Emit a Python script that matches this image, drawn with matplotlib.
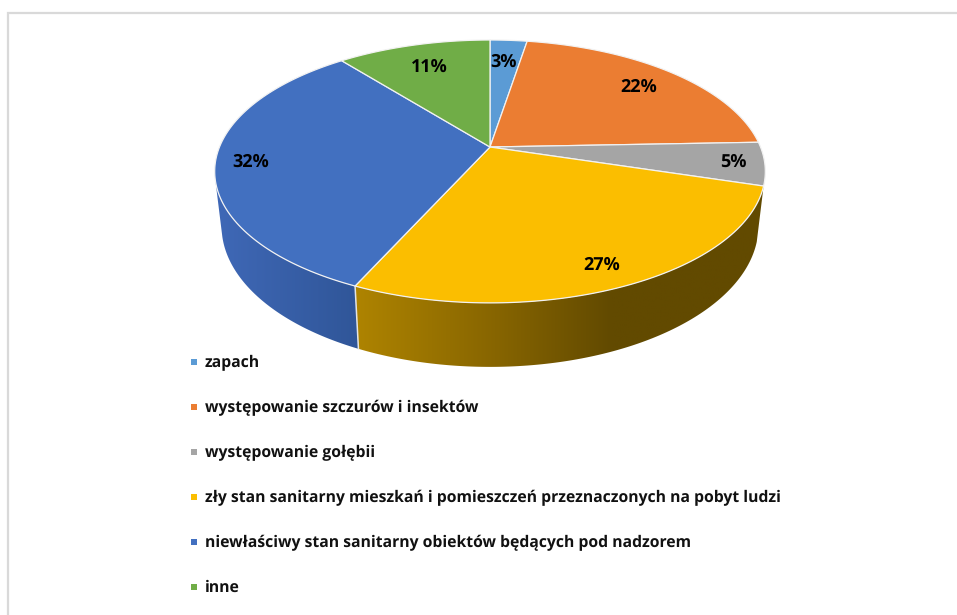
import numpy as np
import matplotlib
matplotlib.use('Agg')
import matplotlib.pyplot as plt
from matplotlib.colors import LinearSegmentedColormap
from matplotlib.patches import Polygon, Rectangle

# data
categories = ['zapach', 'występowanie szczurów i insektów', 'występowanie gołębii',
              'zły stan sanitarny mieszkań i pomieszczeń przeznaczonych na pobyt ludzi',
              'niewłaściwy stan sanitarny obiektów będących pod nadzorem', 'inne']
values = [2.6, 21.8, 5.3, 27.1, 32.4, 10.8]
colors = ['#5B9BD5', '#EB7D32', '#A5A5A5', '#FBBE00', '#4270C0', '#70AD47']

# layout, all in pixels of the 957x615 picture
W, H = 957, 615
CX, CY = 490, 147
A, B, K = 270.5, 126.9, 0.186
label_xy = [(504, 62), (639, 87), (733, 162), (602, 265), (251, 162), (429, 67)]
legend_y = [362, 407, 452, 497, 542, 587]
WALL_LEFT = 255  # degrees where the left side wall stops being visible


def top_rim(deg):
    # circle seen in perspective, angle runs clockwise from 12 o'clock
    t = np.radians(deg)
    xx, yy = np.sin(t), np.cos(t)
    den = 1 + K * yy
    return CX + A * xx / den, CY - B * yy / den


def bottom_rim(deg):
    x, y = top_rim(deg)
    return CX + 0.975 * (x - CX), y + 53 + 11 * (y - CY) / 156


def wall(ax, d0, d1, stops, x0, x1):
    deg = np.linspace(d0, d1, 120)
    tx, ty = top_rim(deg)
    bx, by = bottom_rim(deg)
    pts = np.r_[np.c_[tx, ty], np.c_[bx, by][::-1]]
    outline = Polygon(pts, closed=True, fc='none', ec='none')
    ax.add_patch(outline)
    cmap = LinearSegmentedColormap.from_list('w', stops)
    grad = np.linspace(0, 1, 256).reshape(1, -1)
    im = ax.imshow(grad, cmap=cmap, extent=(x0, x1, 400, 100), aspect='auto',
                   interpolation='bilinear', zorder=1)
    im.set_clip_path(outline)


plt.rcParams['font.family'] = ['Open Sans', 'DejaVu Sans']
plt.rcParams['text.hinting'] = 'no_hinting'
fig = plt.figure(figsize=(W / 100, H / 100), dpi=100)
ax = fig.add_axes([0, 0, 1, 1])

# grey frame of the screenshot
ax.plot([8, 8, W], [H, 13, 13], color='#D9D9D9', lw=1.6, solid_joinstyle='miter')

edges = np.cumsum([0] + values) * 3.6

# side walls, only gold and blue are visible
gold_stops = [(0, '#B08500'), (0.35, '#876500'), (0.63, '#624A00'), (1, '#624A00')]
blue_stops = [(0, '#4069B8'), (1, '#2F5597')]
wall(ax, edges[3], edges[4], gold_stops, 350, 765)
wall(ax, edges[4], WALL_LEFT, blue_stops, 210, 365)
sx, sy = top_rim(edges[4])
ex, ey = bottom_rim(edges[4])
ax.plot([sx, ex], [sy, ey], color='#E4E4E4', lw=1.1, zorder=2)

# top surface
for i, c in enumerate(colors):
    deg = np.linspace(edges[i], edges[i + 1], 100)
    rx, ry = top_rim(deg)
    pts = np.r_[[[CX, CY]], np.c_[rx, ry]]
    ax.add_patch(Polygon(pts, closed=True, fc=c, ec='#F2F2F2', lw=0.9, zorder=3,
                         joinstyle='round'))

for v, (x, y) in zip(values, label_xy):
    ax.text(x, y, f'{v:.0f}%', ha='center', va='center', fontsize=13, fontweight='bold',
            color='black', zorder=4)

# legend
for name, c, y in zip(categories, colors, legend_y):
    ax.add_patch(Rectangle((191, y - 3), 6, 6, fc=c, ec='none'))
    ax.text(205, y + 5, name, ha='left', va='baseline', fontsize=11.3, fontweight='bold', color='#111111')

ax.set_xlim(0, W)
ax.set_ylim(H, 0)
ax.axis('off')
fig.savefig('out.png', dpi=100, facecolor='white')
